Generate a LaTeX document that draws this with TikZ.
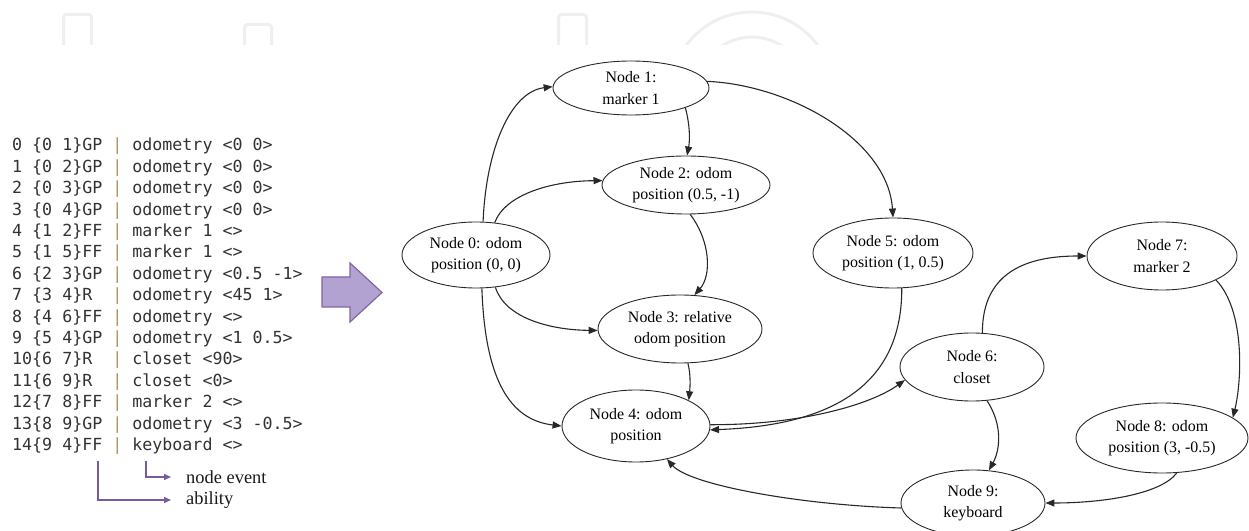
\documentclass[tikz,border=0pt]{standalone}
\usepackage{fontspec}
\setmainfont{Liberation Serif}
\newfontfamily\codefont{DejaVu Sans Mono}
\usetikzlibrary{shapes.geometric,arrows.meta}
\definecolor{edgec}{RGB}{40,40,40}
\definecolor{codec}{RGB}{50,50,50}
\definecolor{barc}{RGB}{175,145,95}
\definecolor{purp}{RGB}{120,90,160}
\definecolor{bigfill}{RGB}{178,162,210}
\definecolor{bigdraw}{RGB}{128,100,165}
\definecolor{wmark}{RGB}{239,239,239}
\begin{document}
\begin{tikzpicture}[x=1bp,y=-1bp,
  gnode/.style={ellipse, draw=edgec, line width=0.9bp, inner sep=0pt, align=center,
    font=\fontsize{16}{21.5}\selectfont, text=black},
  gedge/.style={draw=edgec, line width=1.1bp, -{Triangle[length=9bp,width=7bp]}},
  codeline/.style={anchor=base west, inner sep=0pt, font=\codefont\fontsize{16.7}{20}\selectfont, text=codec},
  annot/.style={draw=purp, line width=1.5bp, -{Triangle[length=7bp,width=6bp]}},
  annotxt/.style={anchor=west, inner sep=0pt, font=\fontsize{18.5}{22}\selectfont, text=black!90},
  wm/.style={draw=wmark, line width=3bp, rounded corners=3bp}]
\useasboundingbox (0,0) rectangle (1249,531);
\clip (0,0) rectangle (1249,531);

% faint watermark
\begin{scope}
  \clip (0,0) rectangle (1249,45);
  \draw[wm] (63.5,46) -- (63.5,14.5) -- (91.5,14.5) -- (91.5,46);
  \draw[wm] (244.5,46) -- (244.5,24.5) -- (271.5,24.5) -- (271.5,46);
  \draw[wm] (558.5,46) -- (558.5,14.5) -- (586.5,14.5) -- (586.5,46);
  \draw[draw=wmark, line width=3bp] (752,93.5) circle[radius=81.5];
  \draw[draw=wmark, line width=3bp] (752,92) circle[radius=55];
\end{scope}

% code listing
\node[codeline] (c0)  at (12,151.0) {0~\{0~1\}GP~\textcolor{barc}{|}~odometry~<0~0>};
\node[codeline] (c1)  at (12,172.4) {1~\{0~2\}GP~\textcolor{barc}{|}~odometry~<0~0>};
\node[codeline] (c2)  at (12,193.8) {2~\{0~3\}GP~\textcolor{barc}{|}~odometry~<0~0>};
\node[codeline] (c3)  at (12,215.2) {3~\{0~4\}GP~\textcolor{barc}{|}~odometry~<0~0>};
\node[codeline] (c4)  at (12,236.6) {4~\{1~2\}FF~\textcolor{barc}{|}~marker~1~<>};
\node[codeline] (c5)  at (12,258.0) {5~\{1~5\}FF~\textcolor{barc}{|}~marker~1~<>};
\node[codeline] (c6)  at (12,279.4) {6~\{2~3\}GP~\textcolor{barc}{|}~odometry~<0.5~-1>};
\node[codeline] (c7)  at (12,300.8) {7~\{3~4\}R~~\textcolor{barc}{|}~odometry~<45~1>};
\node[codeline] (c8)  at (12,322.2) {8~\{4~6\}FF~\textcolor{barc}{|}~odometry~<>};
\node[codeline] (c9)  at (12,343.6) {9~\{5~4\}GP~\textcolor{barc}{|}~odometry~<1~0.5>};
\node[codeline] (c10) at (12,365.0) {10\{6~7\}R~~\textcolor{barc}{|}~closet~<90>};
\node[codeline] (c11) at (12,386.4) {11\{6~9\}R~~\textcolor{barc}{|}~closet~<0>};
\node[codeline] (c12) at (12,407.8) {12\{7~8\}FF~\textcolor{barc}{|}~marker~2~<>};
\node[codeline] (c13) at (12,429.2) {13\{8~9\}GP~\textcolor{barc}{|}~odometry~<3~-0.5>};
\node[codeline] (c14) at (12,450.6) {14\{9~4\}FF~\textcolor{barc}{|}~keyboard~<>};

% annotations
\coordinate (ev0) at (146,461);
\coordinate (ab0) at (98,461);
\node[annotxt] (ev) at (186,477) {node event};
\node[annotxt] (ab) at (186,500) {ability};
\draw[annot, shorten >=15bp] (ev0) |- (ev.west);
\draw[annot, shorten >=15bp] (ab0) |- (ab.west);

% big arrow
\draw[fill=bigfill, draw=bigdraw, line width=1.2bp]
  (322,277) -- (350,277) -- (350,263) -- (382,292.5) -- (350,322) -- (350,307) -- (322,307) -- cycle;

% graph nodes
\node[gnode, minimum width=148bp, minimum height=66bp] (n0) at (476,255) {Node 0: odom\\position (0, 0)};
\node[gnode, minimum width=156bp, minimum height=54bp] (n1) at (631,88) {Node 1:\\marker 1};
\node[gnode, minimum width=168bp, minimum height=58bp] (n2) at (686,185) {Node 2: odom\\position (0.5, -1)};
\node[gnode, minimum width=164bp, minimum height=68bp] (n3) at (680,329) {Node 3: relative\\odom position};
\node[gnode, minimum width=148bp, minimum height=72bp] (n4) at (636,426) {Node 4: odom\\position};
\node[gnode, minimum width=160bp, minimum height=70bp] (n5) at (893,253) {Node 5: odom\\position (1, 0.5)};
\node[gnode, minimum width=144bp, minimum height=68bp] (n6) at (972,367) {Node 6:\\closet};
\node[gnode, minimum width=150bp, minimum height=68bp] (n7) at (1162,256) {Node 7:\\marker 2};
\node[gnode, minimum width=172bp, minimum height=70bp] (n8) at (1162,438) {Node 8: odom\\position (3, -0.5)};
\node[gnode, minimum width=144bp, minimum height=66bp] (n9) at (973,503) {Node 9:\\keyboard};

% graph edges
\draw[gedge] (n0.78) .. controls (486,150) and (510,92) .. (n1.179);
\draw[gedge] (n0.60) .. controls (505,195) and (550,181) .. (n2.177);
\draw[gedge] (n0.301) .. controls (505,318) and (550,330) .. (n3.181);
\draw[gedge] (n0.280) .. controls (485,380) and (510,420) .. (n4.180);
\draw[gedge] (n1.340) .. controls (690,125) and (690,140) .. (n2.88);
\draw[gedge] (n1.5) .. controls (790,85) and (888,140) .. (n5.90);
\draw[gedge] (n2.278) .. controls (710,240) and (712,275) .. (n3.67);
\draw[gedge] (n3.283) .. controls (691,375) and (690,388) .. (n4.26);
\draw[gedge] (n5.284) .. controls (902,380) and (840,425) .. (n4.357);
\draw[gedge] (n4.1) .. controls (800,425) and (870,405) .. (n6.191);
\draw[gedge] (n6.73) .. controls (982,270) and (1030,256) .. (n7.180);
\draw[gedge] (n6.294) .. controls (1003,425) and (1000,450) .. (n9.64);
\draw[gedge] (n7.336) .. controls (1245,310) and (1242,380) .. (n8.16);
\draw[gedge] (n8.293) .. controls (1160,495) and (1100,503) .. (n9.0);
\draw[gedge] (n9.184) .. controls (800,505) and (690,485) .. (n4.313);
\end{tikzpicture}
\end{document}
